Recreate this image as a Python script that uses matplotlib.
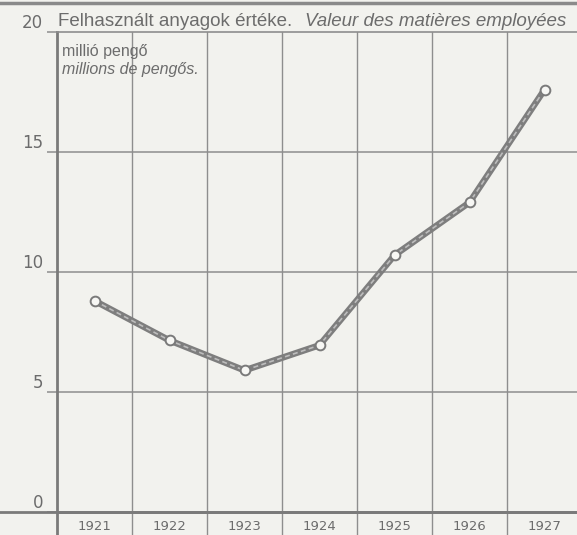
import matplotlib.pyplot as plt
from matplotlib.lines import Line2D

years = ["1921", "1922", "1923", "1924", "1925", "1926", "1927"]
values = [8.8, 7.15, 5.9, 6.95, 10.7, 12.9, 17.6]
yticks = [0, 5, 10, 15, 20]

bg = "#f2f2ee"
ink = "#6c6c6c"
grid = "#8e8e8e"
sans = ["Liberation Sans", "DejaVu Sans"]

fig = plt.figure(figsize=(5.77, 5.35), dpi=100, facecolor=bg)
ax = fig.add_axes([57 / 577, 1 - 512 / 535, 1 - 57 / 577, (512 - 32) / 535])
ax.set_facecolor(bg)

xs = list(range(len(years)))
ax.set_xlim(-0.5, (577 - 57) / 75 - 0.5)
ax.set_ylim(0, 20)

# grid
for x in xs[:-1]:
    ax.axvline(x + 0.5, color=grid, lw=1.0, zorder=1)
    ax.plot([x + 0.5, x + 0.5], [0, -1.0], color=grid, lw=1.0, clip_on=False)
for y in yticks[1:-1]:
    ax.axhline(y, color=grid, lw=1.1, zorder=1)

ax.plot([-0.5, -0.5], [0, -1.0], color="#7a7a7a", lw=2.0, clip_on=False)

ax.spines["right"].set_visible(False)
ax.spines["left"].set_color("#7a7a7a")
ax.spines["left"].set_linewidth(2.0)
ax.spines["bottom"].set_color("#7a7a7a")
ax.spines["bottom"].set_linewidth(2.0)
ax.spines["top"].set_color(grid)
ax.spines["top"].set_linewidth(1.2)

ax.set_xticks([])
ax.set_yticks(yticks)
ax.set_yticklabels([str(v) for v in yticks])
ax.tick_params(axis="y", length=7, width=1.1, color=grid, pad=3,
               labelsize=12, labelcolor=ink)
for lab in ax.get_yticklabels():
    lab.set_verticalalignment("bottom")

# year labels under the axis
for x, yr in zip(xs, years):
    ax.text(x, -0.62, yr, ha="center", va="center", fontsize=9.5,
            color=ink, clip_on=False)

# bottom and top rules across the whole page
fig.add_artist(Line2D([0, 1], [1 - 512 / 535] * 2, color="#7a7a7a", lw=2.0))
fig.add_artist(Line2D([0, 1], [1 - 3 / 535] * 2, color="#8a8a8a", lw=2.5))

# data line
ax.plot(xs, values, color="#7e7e7e", lw=4.6, zorder=3, solid_capstyle="round")
ax.plot(xs, values, color="#bdbdbd", lw=1.2, ls=(0, (3, 2)), zorder=4)
ax.plot(xs, values, ls="none", marker="o", ms=7, mfc="#f7f7f4",
        mec="#7a7a7a", mew=1.4, zorder=5)

# titles
fig.text(58 / 577, 1 - 30 / 535, "Felhasznált anyagok értéke.", fontsize=13.5,
         color=ink, ha="left", va="bottom", family=sans)
fig.text(305 / 577, 1 - 30 / 535, "Valeur des matières employées",
         fontsize=13.5, color=ink, style="italic", ha="left", va="bottom",
         family=sans)
ax.text(-0.43, 19.2, "millió pengő", fontsize=11.5, color=ink,
        ha="left", va="center", family=sans)
ax.text(-0.43, 18.45, "millions de pengős.", fontsize=11.5, color=ink,
        style="italic", ha="left", va="center", family=sans)

fig.savefig("out.png", dpi=100, facecolor=bg)
